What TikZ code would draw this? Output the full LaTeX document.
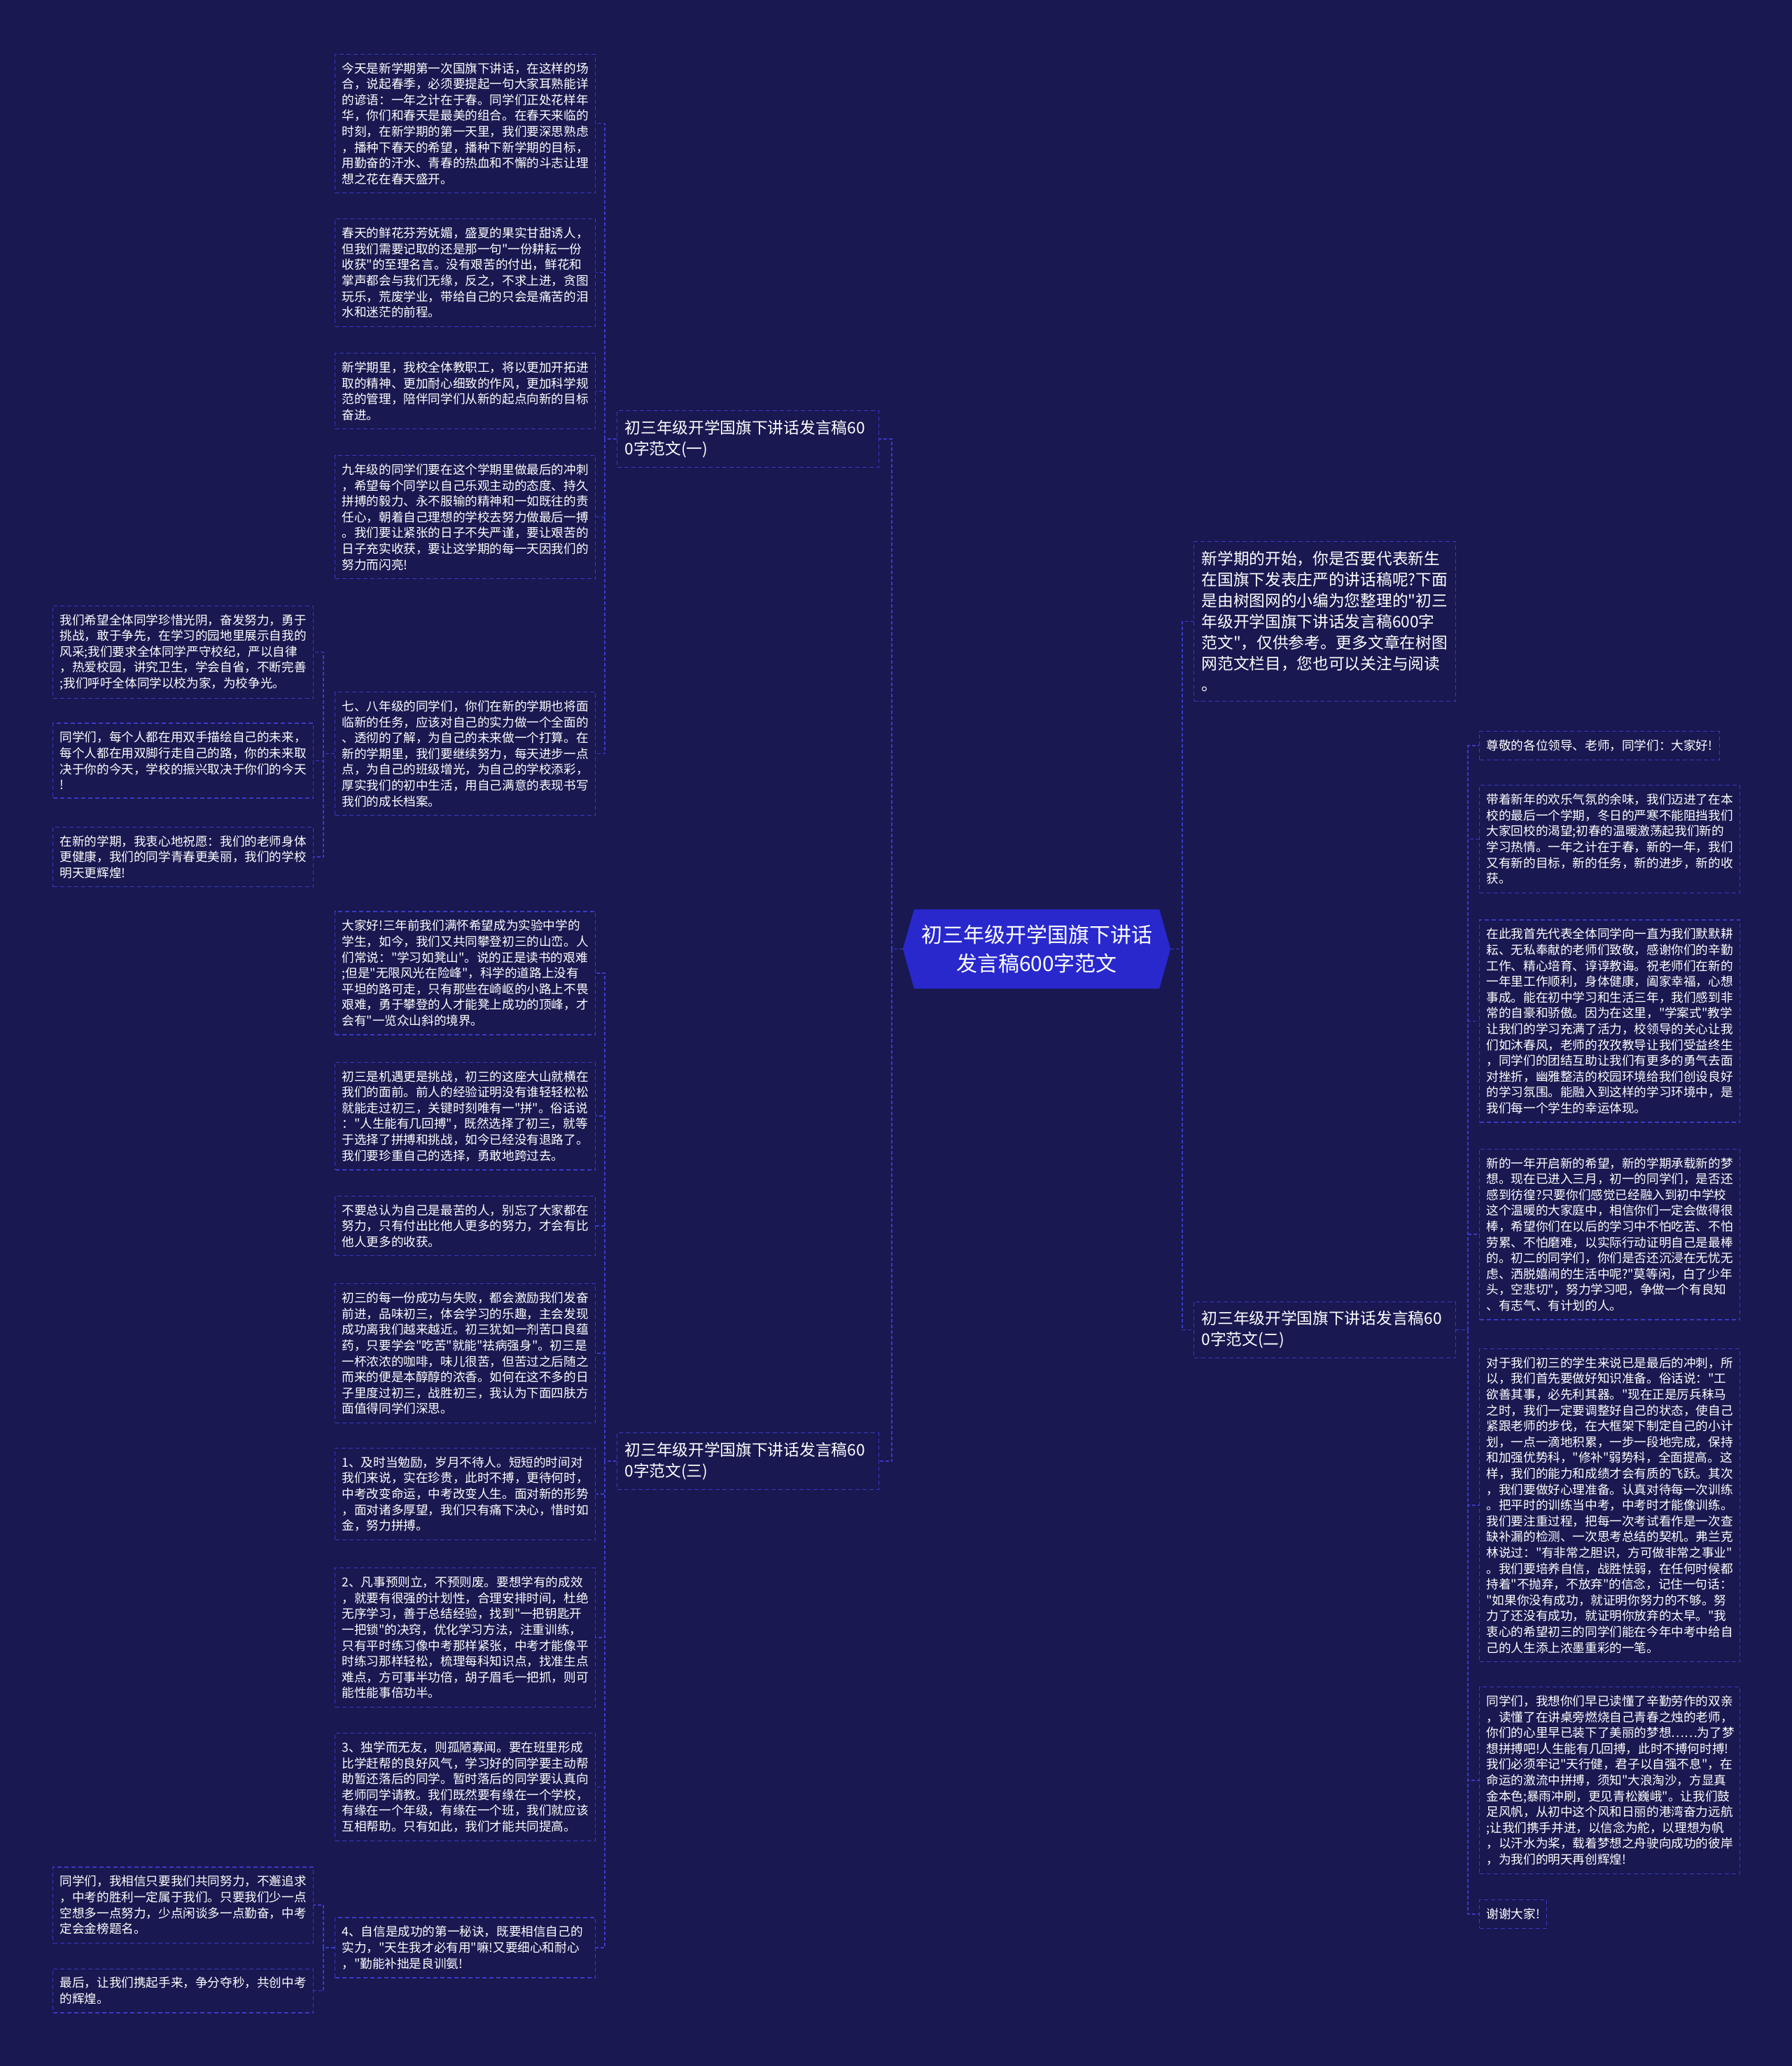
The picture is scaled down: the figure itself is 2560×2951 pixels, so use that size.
\documentclass[tikz,border=0pt]{standalone}
\usepackage{fontspec}
\newfontfamily\cjk{Noto Sans CJK SC}
\usetikzlibrary{backgrounds,calc}
\definecolor{bgc}{RGB}{25,24,80}
\definecolor{hubfill}{RGB}{40,40,205}
\definecolor{lnc}{RGB}{58,58,200}
\tikzset{
  leafbase/.style={draw=lnc, line width=1.2pt, dash pattern=on 6pt off 4pt, text=white, align=left,
    inner xsep=10pt, inner ysep=12pt, font=\cjk\fontsize{17.6}{22.6}\selectfont, anchor=west},
  leaf/.style={leafbase, text width=352pt},
  branch/.style={draw=lnc, line width=1.2pt, dash pattern=on 6pt off 4pt, text=white, align=left,
    inner xsep=11pt, inner ysep=13.5pt, text width=352pt, font=\cjk\fontsize{22.7}{30}\selectfont, anchor=west},
  hubbox/.style={text=white, align=center, minimum width=382pt, minimum height=113pt, inner sep=0pt,
    font=\cjk\fontsize{30}{41}\selectfont},
  link/.style={draw=lnc, line width=1.2pt, dash pattern=on 5pt off 3pt},
}
\begin{document}
\begin{tikzpicture}[x=1pt,y=-1pt]
\useasboundingbox (0,0) rectangle (2560,2951);
% root
\node[hubbox] (root) at (1481,1355.5) {初三年级开学国旗下讲话\\发言稿600字范文};
% main branches
\node[branch] (intro) at (1705,887.5) {新学期的开始，你是否要代表新生\\在国旗下发表庄严的讲话稿呢?下面\\是由树图网的小编为您整理的"初三\\年级开学国旗下讲话发言稿600字\\范文"，仅供参考。更多文章在树图\\网范文栏目，您也可以关注与阅读\\。};
\node[branch] (b2) at (1705,1899.5) {初三年级开学国旗下讲话发言稿60\\0字范文(二)};
\node[branch] (b1) at (881,627) {初三年级开学国旗下讲话发言稿60\\0字范文(一)};
\node[branch] (b3) at (881,2087) {初三年级开学国旗下讲话发言稿60\\0字范文(三)};
% branch 1 children
\node[leaf] (n1) at (478,176.5) {今天是新学期第一次国旗下讲话，在这样的场\\合，说起春季，必须要提起一句大家耳熟能详\\的谚语：一年之计在于春。同学们正处花样年\\华，你们和春天是最美的组合。在春天来临的\\时刻，在新学期的第一天里，我们要深思熟虑\\，播种下春天的希望，播种下新学期的目标，\\用勤奋的汗水、青春的热血和不懈的斗志让理\\想之花在春天盛开。};
\node[leaf] (n2) at (478,389.5) {春天的鲜花芬芳妩媚，盛夏的果实甘甜诱人，\\但我们需要记取的还是那一句"一份耕耘一份\\收获"的至理名言。没有艰苦的付出，鲜花和\\掌声都会与我们无缘，反之，不求上进，贪图\\玩乐，荒废学业，带给自己的只会是痛苦的泪\\水和迷茫的前程。};
\node[leaf] (n3) at (478,558.5) {新学期里，我校全体教职工，将以更加开拓进\\取的精神、更加耐心细致的作风，更加科学规\\范的管理，陪伴同学们从新的起点向新的目标\\奋进。};
\node[leaf] (n4) at (478,738.5) {九年级的同学们要在这个学期里做最后的冲刺\\，希望每个同学以自己乐观主动的态度、持久\\拼搏的毅力、永不服输的精神和一如既往的责\\任心，朝着自己理想的学校去努力做最后一搏\\。我们要让紧张的日子不失严谨，要让艰苦的\\日子充实收获，要让这学期的每一天因我们的\\努力而闪亮!};
\node[leaf] (n5) at (478,1076.5) {七、八年级的同学们，你们在新的学期也将面\\临新的任务，应该对自己的实力做一个全面的\\、透彻的了解，为自己的未来做一个打算。在\\新的学期里，我们要继续努力，每天进步一点\\点，为自己的班级增光，为自己的学校添彩，\\厚实我们的初中生活，用自己满意的表现书写\\我们的成长档案。};
% far left (children of n5)
\node[leaf] (fa) at (75,931.5) {我们希望全体同学珍惜光阴，奋发努力，勇于\\挑战，敢于争先，在学习的园地里展示自我的\\风采;我们要求全体同学严守校纪，严以自律\\，热爱校园，讲究卫生，学会自省，不断完善\\;我们呼吁全体同学以校为家，为校争光。};
\node[leaf] (fb) at (75,1086.5) {同学们，每个人都在用双手描绘自己的未来，\\每个人都在用双脚行走自己的路，你的未来取\\决于你的今天，学校的振兴取决于你们的今天\\!};
\node[leaf] (fc) at (75,1224) {在新的学期，我衷心地祝愿：我们的老师身体\\更健康，我们的同学青春更美丽，我们的学校\\明天更辉煌!};
% branch 3 children
\node[leaf] (n6) at (478,1390) {大家好!三年前我们满怀希望成为实验中学的\\学生，如今，我们又共同攀登初三的山峦。人\\们常说："学习如凳山"。说的正是读书的艰难\\;但是"无限风光在险峰"，科学的道路上没有\\平坦的路可走，只有那些在崎岖的小路上不畏\\艰难，勇于攀登的人才能凳上成功的顶峰，才\\会有"一览众山斜的境界。};
\node[leaf] (n7) at (478,1594) {初三是机遇更是挑战，初三的这座大山就横在\\我们的面前。前人的经验证明没有谁轻轻松松\\就能走过初三，关键时刻唯有一"拼"。俗话说\\："人生能有几回搏"，既然选择了初三，就等\\于选择了拼搏和挑战，如今已经没有退路了。\\我们要珍重自己的选择，勇敢地跨过去。};
\node[leaf] (n8) at (478,1751) {不要总认为自己是最苦的人，别忘了大家都在\\努力，只有付出比他人更多的努力，才会有比\\他人更多的收获。};
\node[leaf] (n9) at (478,1933) {初三的每一份成功与失败，都会激励我们发奋\\前进，品味初三，体会学习的乐趣，主会发现\\成功离我们越来越近。初三犹如一剂苦口良蕴\\药，只要学会"吃苦"就能"祛病强身"。初三是\\一杯浓浓的咖啡，味儿很苦，但苦过之后随之\\而来的便是本醇醇的浓香。如何在这不多的日\\子里度过初三，战胜初三，我认为下面四肤方\\面值得同学们深思。};
\node[leaf] (n10) at (478,2134) {1、及时当勉励，岁月不待人。短短的时间对\\我们来说，实在珍贵，此时不搏，更待何时，\\中考改变命运，中考改变人生。面对新的形势\\，面对诸多厚望，我们只有痛下决心，惜时如\\金，努力拼搏。};
\node[leaf] (n11) at (478,2339) {2、凡事预则立，不预则废。要想学有的成效\\，就要有很强的计划性，合理安排时间，杜绝\\无序学习，善于总结经验，找到"一把钥匙开\\一把锁"的决窍，优化学习方法，注重训练，\\只有平时练习像中考那样紧张，中考才能像平\\时练习那样轻松，梳理每科知识点，找准生点\\难点，方可事半功倍，胡子眉毛一把抓，则可\\能性能事倍功半。};
\node[leaf] (n12) at (478,2552.5) {3、独学而无友，则孤陋寡闻。要在班里形成\\比学赶帮的良好风气，学习好的同学要主动帮\\助暂还落后的同学。暂时落后的同学要认真向\\老师同学请教。我们既然要有缘在一个学校，\\有缘在一个年级，有缘在一个班，我们就应该\\互相帮助。只有如此，我们才能共同提高。};
\node[leaf] (n13) at (478,2782) {4、自信是成功的第一秘诀，既要相信自己的\\实力，"天生我才必有用"嘛!又要细心和耐心\\，"勤能补拙是良训氨!};
% far left (children of n13)
\node[leaf] (fd) at (75,2721) {同学们，我相信只要我们共同努力，不邂追求\\，中考的胜利一定属于我们。只要我们少一点\\空想多一点努力，少点闲谈多一点勤奋，中考\\定会金榜题名。};
\node[leaf] (fe) at (75,2843.5) {最后，让我们携起手来，争分夺秒，共创中考\\的辉煌。};
% branch 2 children
\node[leafbase] (r1) at (2113,1065) {尊敬的各位领导、老师，同学们：大家好!};
\node[leaf] (r2) at (2113,1198.5) {带着新年的欢乐气氛的余味，我们迈进了在本\\校的最后一个学期，冬日的严寒不能阻挡我们\\大家回校的渴望;初春的温暖激荡起我们新的\\学习热情。一年之计在于春，新的一年，我们\\又有新的目标，新的任务，新的进步，新的收\\获。};
\node[leaf] (r3) at (2113,1458.5) {在此我首先代表全体同学向一直为我们默默耕\\耘、无私奉献的老师们致敬，感谢你们的辛勤\\工作、精心培育、谆谆教诲。祝老师们在新的\\一年里工作顺利，身体健康，阖家幸福，心想\\事成。能在初中学习和生活三年，我们感到非\\常的自豪和骄傲。因为在这里，"学案式"教学\\让我们的学习充满了活力，校领导的关心让我\\们如沐春风，老师的孜孜教导让我们受益终生\\，同学们的团结互助让我们有更多的勇气去面\\对挫折，幽雅整洁的校园环境给我们创设良好\\的学习氛围。能融入到这样的学习环境中，是\\我们每一个学生的幸运体现。};
\node[leaf] (r4) at (2113,1763) {新的一年开启新的希望，新的学期承载新的梦\\想。现在已进入三月，初一的同学们，是否还\\感到彷徨?只要你们感觉已经融入到初中学校\\这个温暖的大家庭中，相信你们一定会做得很\\棒，希望你们在以后的学习中不怕吃苦、不怕\\劳累、不怕磨难，以实际行动证明自己是最棒\\的。初二的同学们，你们是否还沉浸在无忧无\\虑、洒脱嬉闹的生活中呢?"莫等闲，白了少年\\头，空悲切"，努力学习吧，争做一个有良知\\、有志气、有计划的人。};
\node[leaf] (r5) at (2113,2150) {对于我们初三的学生来说已是最后的冲刺，所\\以，我们首先要做好知识准备。俗话说："工\\欲善其事，必先利其器。"现在正是厉兵秣马\\之时，我们一定要调整好自己的状态，使自己\\紧跟老师的步伐，在大框架下制定自己的小计\\划，一点一滴地积累，一步一段地完成，保持\\和加强优势科，"修补"弱势科，全面提高。这\\样，我们的能力和成绩才会有质的飞跃。其次\\，我们要做好心理准备。认真对待每一次训练\\。把平时的训练当中考，中考时才能像训练。\\我们要注重过程，把每一次考试看作是一次查\\缺补漏的检测、一次思考总结的契机。弗兰克\\林说过："有非常之胆识，方可做非常之事业"\\。我们要培养自信，战胜怯弱，在任何时候都\\持着"不抛弃，不放弃"的信念，记住一句话：\\"如果你没有成功，就证明你努力的不够。努\\力了还没有成功，就证明你放弃的太早。"我\\衷心的希望初三的同学们能在今年中考中给自\\己的人生添上浓墨重彩的一笔。};
\node[leaf] (r6) at (2113,2543) {同学们，我想你们早已读懂了辛勤劳作的双亲\\，读懂了在讲桌旁燃烧自己青春之烛的老师，\\你们的心里早已装下了美丽的梦想……为了梦\\想拼搏吧!人生能有几回搏，此时不搏何时搏!\\我们必须牢记"天行健，君子以自强不息"，在\\命运的激流中拼搏，须知"大浪淘沙，方显真\\金本色;暴雨冲刷，更见青松巍峨"。让我们鼓\\足风帆，从初中这个风和日丽的港湾奋力远航\\;让我们携手并进，以信念为舵，以理想为帆\\，以汗水为桨，载着梦想之舟驶向成功的彼岸\\，为我们的明天再创辉煌!};
\node[leafbase] (r7) at (2113,2734) {谢谢大家!};
% background and hub shape
\begin{scope}[on background layer]
\fill[bgc] (0,0) rectangle (2560,2951);
\fill[hubfill] (root.west) -- ([xshift=16pt]root.north west) -- ([xshift=-16pt]root.north east)
  -- (root.east) -- ([xshift=-16pt]root.south east) -- ([xshift=16pt]root.south west) -- cycle;
\end{scope}
% connector junctions
\coordinate (jl) at (1274,1355.5);
\coordinate (jr) at (1689,1355.5);
\coordinate (j1) at (864,627);
\coordinate (j3) at (864,2087);
\coordinate (j2) at (2097,1899.5);
\coordinate (j5) at (462,1076.5);
\coordinate (j13) at (462,2782);
% connectors
\draw[link] (root.west) -- (jl);
\draw[link] (jl) |- (b1.east);
\draw[link] (jl) |- (b3.east);
\draw[link] (root.east) -- (jr);
\draw[link] (jr) |- (intro.west);
\draw[link] (jr) |- (b2.west);
\draw[link] (b1.west) -- (j1);
\foreach \n in {n1,n2,n3,n4,n5} {\draw[link] (j1) |- (\n.east);}
\draw[link] (b3.west) -- (j3);
\foreach \n in {n6,n7,n8,n9,n10,n11,n12,n13} {\draw[link] (j3) |- (\n.east);}
\draw[link] (b2.east) -- (j2);
\foreach \n in {r1,r2,r3,r4,r5,r6,r7} {\draw[link] (j2) |- (\n.west);}
\draw[link] (n5.west) -- (j5);
\foreach \n in {fa,fb,fc} {\draw[link] (j5) |- (\n.east);}
\draw[link] (n13.west) -- (j13);
\foreach \n in {fd,fe} {\draw[link] (j13) |- (\n.east);}
\end{tikzpicture}
\end{document}
